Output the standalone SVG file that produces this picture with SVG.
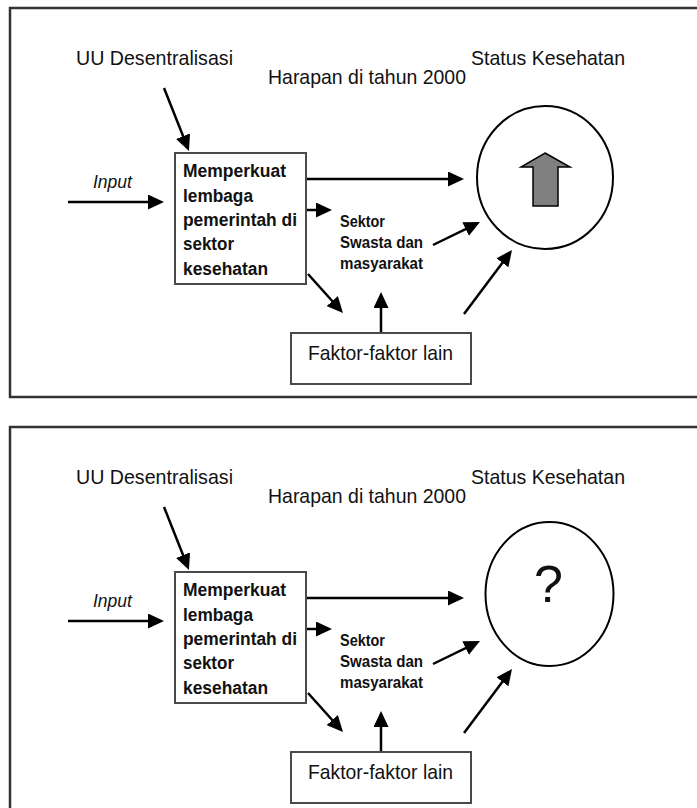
<svg xmlns="http://www.w3.org/2000/svg" width="697" height="808" viewBox="0 0 697 808">
<style>
  .frame { fill: none; stroke: #333; stroke-width: 2.5; }
  .box { fill: #fff; stroke: #4a4a4a; stroke-width: 2; }
  .circ { fill: #fff; stroke: #000; stroke-width: 2; }
  .lbl { font-family: "Liberation Sans Narrow", "Liberation Sans", Arial, sans-serif; font-size: 21px; fill: #111; }
  .bx { font-family: "Liberation Sans Narrow", "Liberation Sans", Arial, sans-serif; font-size: 17.5px; font-weight: bold; fill: #111; }
  .sm { font-family: "Liberation Sans Narrow", "Liberation Sans", Arial, sans-serif; font-size: 16px; font-weight: bold; fill: #111; }
  .it { font-family: "Liberation Sans Narrow", "Liberation Sans", Arial, sans-serif; font-size: 18px; font-style: italic; fill: #111; }
  .q { font-family: "Liberation Sans", Arial, sans-serif; font-size: 52px; fill: #111; }
  .con { fill: none; stroke: #000; stroke-width: 2.5; marker-end: url(#ah); }
</style>
<defs>
  <marker id="ah" markerUnits="userSpaceOnUse" markerWidth="16" markerHeight="15" refX="12" refY="7.5" orient="auto">
    <path d="M0,0 L16,7.5 L0,15 z" fill="#000"/>
  </marker>
  <g id="panel">
    <g id="uu"><text class="lbl" x="76" y="65" textLength="157" lengthAdjust="spacingAndGlyphs">UU Desentralisasi</text></g>
    <g id="harapan"><text class="lbl" x="268" y="84" textLength="198" lengthAdjust="spacingAndGlyphs">Harapan di tahun 2000</text></g>
    <g id="status"><text class="lbl" x="471" y="65" textLength="154" lengthAdjust="spacingAndGlyphs">Status Kesehatan</text></g>
    <g id="input"><text class="it" x="93" y="188" textLength="39" lengthAdjust="spacingAndGlyphs">Input</text></g>
    <g id="memperkuat">
      <rect class="box" x="175" y="153" width="131" height="131"/>
      <text class="bx" x="183" y="177" textLength="103" lengthAdjust="spacingAndGlyphs">Memperkuat</text>
      <text class="bx" x="183" y="202" textLength="70" lengthAdjust="spacingAndGlyphs">lembaga</text>
      <text class="bx" x="183" y="226" textLength="114" lengthAdjust="spacingAndGlyphs">pemerintah di</text>
      <text class="bx" x="183" y="250" textLength="51" lengthAdjust="spacingAndGlyphs">sektor</text>
      <text class="bx" x="183" y="275" textLength="85" lengthAdjust="spacingAndGlyphs">kesehatan</text>
    </g>
    <g id="sektor">
      <text class="sm" x="340" y="227" textLength="45" lengthAdjust="spacingAndGlyphs">Sektor</text>
      <text class="sm" x="340" y="248" textLength="83" lengthAdjust="spacingAndGlyphs">Swasta dan</text>
      <text class="sm" x="340" y="269" textLength="83" lengthAdjust="spacingAndGlyphs">masyarakat</text>
    </g>
    <g id="faktor">
      <rect class="box" x="291" y="333" width="180" height="51"/>
      <text class="lbl" x="308" y="360" textLength="145" lengthAdjust="spacingAndGlyphs">Faktor-faktor lain</text>
    </g>
    <g id="connectors">
      <line class="con" x1="164" y1="88" x2="187.5" y2="147.3"/>
      <line class="con" x1="68" y1="202" x2="160" y2="202"/>
      <line class="con" x1="307" y1="179" x2="460" y2="179"/>
      <line class="con" x1="307" y1="210" x2="328" y2="210"/>
      <line class="con" x1="433" y1="245" x2="476.4" y2="223.8"/>
      <line class="con" x1="308" y1="274" x2="340.3" y2="310"/>
      <line class="con" x1="381" y1="332" x2="381" y2="296"/>
      <line class="con" x1="464" y1="314" x2="509.6" y2="253.2"/>
    </g>
  </g>
</defs>
<rect width="697" height="808" fill="#fff"/>
<g id="top-panel">
  <rect class="frame" x="10" y="8" width="700" height="389"/>
  <use href="#panel"/>
  <g id="status-circle-top">
    <ellipse class="circ" cx="545" cy="177.5" rx="68" ry="71.5"/>
    <polygon points="545,153 570,167 558,167 558,206 533,206 533,167 521,167" fill="#808080" stroke="#000" stroke-width="1.5" stroke-linejoin="miter"/>
  </g>
</g>
<g id="bottom-panel">
  <rect class="frame" x="10" y="427" width="700" height="400"/>
  <use href="#panel" y="419"/>
  <g id="status-circle-bottom">
    <ellipse class="circ" cx="549.5" cy="594" rx="64" ry="72"/>
    <text class="q" x="548.5" y="602" text-anchor="middle">?</text>
  </g>
</g>
</svg>
